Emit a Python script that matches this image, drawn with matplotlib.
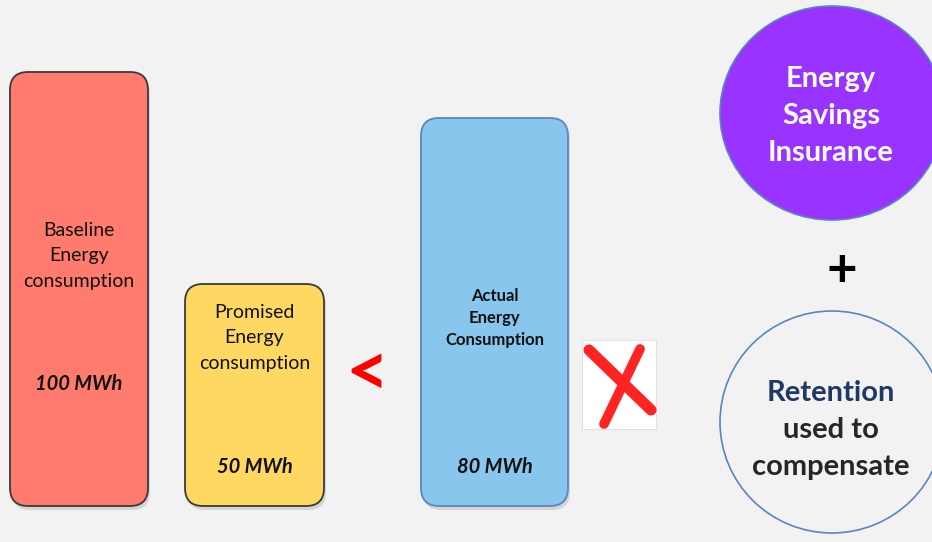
import matplotlib.pyplot as plt
from matplotlib.patches import FancyBboxPatch, Ellipse, Rectangle

# bar labels and values
bar_labels = [['Baseline', 'Energy', 'consumption'],
              ['Promised', 'Energy', 'consumption'],
              ['Actual', 'Energy', 'Consumption']]
bar_values = [100, 50, 80]
bar_units = 'MWh'
circle_top_lines = ['Energy', 'Savings', 'Insurance']
circle_bottom_lines = ['Retention', 'used to', 'compensate']

# layout in pixel space (y grows downward)
box_left = [10, 185, 421]
box_width = [138, 139, 147]
box_top = [72, 284, 118]
box_bottom = 506
box_fill = ['#ff7b6d', '#fed860', '#88c6ed']
box_edge = ['#3a3a3a', '#3a3a3a', '#5a86bd']
label_y0 = [230, 312, 296]
label_step = [25.5, 26, 22]
label_size = [14, 14, 12]
label_weight = ['normal', 'normal', 'bold']
value_y = [384, 467, 467]

plt.rcParams['font.family'] = ['Lato', 'DejaVu Sans']

fig = plt.figure(figsize=(9.32, 5.42), dpi=100)
fig.patch.set_facecolor('#f2f2f2')
ax = fig.add_axes([0, 0, 1, 1])
ax.set_xlim(0, 932)
ax.set_ylim(542, 0)
ax.axis('off')

for i in range(3):
    h = box_bottom - box_top[i]
    # soft shadow
    sh = FancyBboxPatch((box_left[i] + 2, box_top[i] + 4), box_width[i], h,
                        boxstyle='round,pad=0,rounding_size=18',
                        fc='#000000', ec='none', alpha=0.12, zorder=1)
    ax.add_patch(sh)
    p = FancyBboxPatch((box_left[i], box_top[i]), box_width[i], h,
                       boxstyle='round,pad=0,rounding_size=18',
                       fc=box_fill[i], ec=box_edge[i], lw=1.3, zorder=2)
    ax.add_patch(p)
    cx = box_left[i] + box_width[i] / 2
    for k, line in enumerate(bar_labels[i]):
        ax.text(cx, label_y0[i] + label_step[i] * k, line, ha='center', va='center',
                fontsize=label_size[i], fontweight=label_weight[i],
                color='#111111', zorder=3)
    ax.text(cx, value_y[i], f'{bar_values[i]} {bar_units}', ha='center', va='center',
            fontsize=14.5, fontweight='bold', fontstyle='italic',
            color='#111111', zorder=3)

# less-than sign
ax.text(367, 374, '<', ha='center', va='center', fontsize=54, fontweight='bold',
        color='#ff0000', zorder=3)

# cross mark on white card
ax.add_patch(Rectangle((582, 340), 74, 89, fc='white', ec='#dddddd', lw=0.6, zorder=2))
ax.plot([589, 651], [350, 410], color='#ff2424', lw=8, solid_capstyle='round', zorder=3)
ax.plot([640, 604], [349, 424], color='#ff2424', lw=7, solid_capstyle='round', zorder=3)

# insurance circle
ax.add_patch(Ellipse((832, 113), 224, 214, fc='#9933ff', ec='#5a86bd', lw=1.2, zorder=2))
for j, txt in enumerate(circle_top_lines):
    ax.text(831, 79 + 37 * j, txt, ha='center', va='center', fontsize=21,
            fontweight='bold', color='white', zorder=3)

# plus sign
ax.text(842, 272, '+', ha='center', va='center', fontsize=38, fontweight='bold',
        color='black', zorder=3)

# retention circle
ax.add_patch(Ellipse((832, 422), 224, 222, fc='#f2f2f2', ec='#5a86bd', lw=1.2, zorder=2))
line_colors = ['#1f3864', '#262626', '#262626']
for j, (txt, c) in enumerate(zip(circle_bottom_lines, line_colors)):
    ax.text(831, 393 + 37 * j, txt, ha='center', va='center', fontsize=21,
            fontweight='bold', color=c, zorder=3)

fig.savefig('out.png', dpi=100, facecolor=fig.get_facecolor())
